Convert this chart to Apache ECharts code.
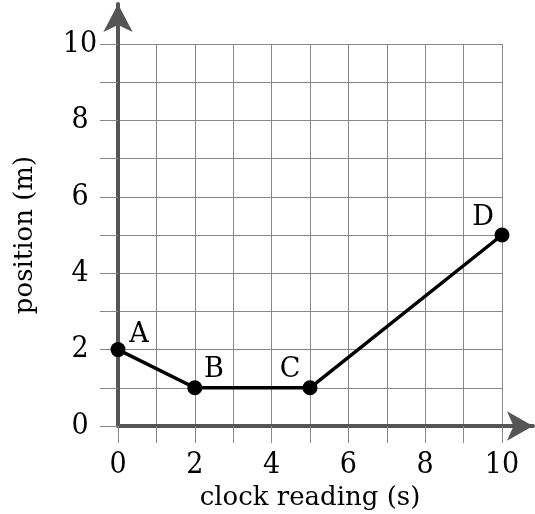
<!DOCTYPE html>
<html>
<head>
<meta charset="utf-8">
<script src="https://cdn.jsdelivr.net/npm/echarts@6/dist/echarts.min.js"></script>
<style>html,body{margin:0;padding:0;background:#fff;}#c{width:535px;height:514px;}</style>
</head>
<body>
<div id="c"></div>
<script>
var pointNames = ['A', 'B', 'C', 'D'];
var clockReading = [0, 2, 5, 10];
var position = [2, 1, 1, 5];
var labelOffsets = [[21, -15], [19, -18], [-20, -18], [-19, -17]];
var xTickLabels = [0, 2, 4, 6, 8, 10];
var yTickLabels = [0, 2, 4, 6, 8, 10];

var FONT = 'DejaVu Serif';
var TICKFONT = '"DejaVu Serif Condensed", "DejaVu Serif", serif';
var data = pointNames.map(function (n, i) {
  return {
    value: [clockReading[i], position[i]],
    name: n,
    label: { offset: labelOffsets[i] }
  };
});

var chart = echarts.init(document.getElementById('c'));
chart.setOption({
  animation: false,
  grid: [
    { left: 118, right: 33, top: 44, bottom: 88, containLabel: false, outerBoundsMode: 'none' },
    { left: 118, right: 2, top: 4, bottom: 88, containLabel: false, outerBoundsMode: 'none' }
  ],
  xAxis: [
    {
      type: 'value', gridIndex: 0, min: 0, max: 10, interval: 1,
      axisLine: { show: false },
      axisTick: { show: true, inside: false, length: 17, lineStyle: { color: '#888', width: 1 } },
      splitLine: { show: true, lineStyle: { color: '#888', width: 1 } },
      axisLabel: {
        margin: 24, fontFamily: TICKFONT, fontSize: 30, color: '#000',
        formatter: function (v) { return xTickLabels.indexOf(v) >= 0 ? String(v) : ''; }
      },
      name: 'clock reading (s)', nameLocation: 'middle', nameGap: 57,
      nameTextStyle: { fontFamily: FONT, fontSize: 26, color: '#000' }
    },
    {
      type: 'value', gridIndex: 1, min: 0, max: 1,
      axisLine: { show: true, symbol: ['none', 'arrow'], symbolSize: [22, 26], symbolOffset: [0, 0],
        lineStyle: { color: '#555', width: 4 } },
      axisTick: { show: false }, splitLine: { show: false }, axisLabel: { show: false }
    }
  ],
  yAxis: [
    {
      type: 'value', gridIndex: 0, min: 0, max: 10, interval: 1,
      axisLine: { show: false },
      axisTick: { show: true, inside: false, length: 18, lineStyle: { color: '#888', width: 1 } },
      splitLine: { show: true, lineStyle: { color: '#888', width: 1 } },
      axisLabel: {
        margin: 38, align: 'center', fontFamily: TICKFONT, fontSize: 30, color: '#000',
        formatter: function (v) { return yTickLabels.indexOf(v) >= 0 ? String(v) : ''; }
      },
      name: 'position (m)', nameLocation: 'middle', nameGap: 80, nameRotate: 90,
      nameTextStyle: { fontFamily: FONT, fontSize: 26, color: '#000' }
    },
    {
      type: 'value', gridIndex: 1, min: 0, max: 1,
      axisLine: { show: true, symbol: ['none', 'arrow'], symbolSize: [22, 28], symbolOffset: [0, 0],
        lineStyle: { color: '#555', width: 4 } },
      axisTick: { show: false }, splitLine: { show: false }, axisLabel: { show: false }
    }
  ],
  series: [
    {
      type: 'line', xAxisIndex: 0, yAxisIndex: 0, data: data,
      symbol: 'circle', symbolSize: 15,
      itemStyle: { color: '#000' },
      lineStyle: { color: '#000', width: 3.5 },
      label: {
        show: true, position: 'inside', fontFamily: FONT, fontSize: 27, color: '#000',
        formatter: function (p) { return p.name; }
      },
      z: 5
    }
  ]
});
</script>
</body>
</html>
